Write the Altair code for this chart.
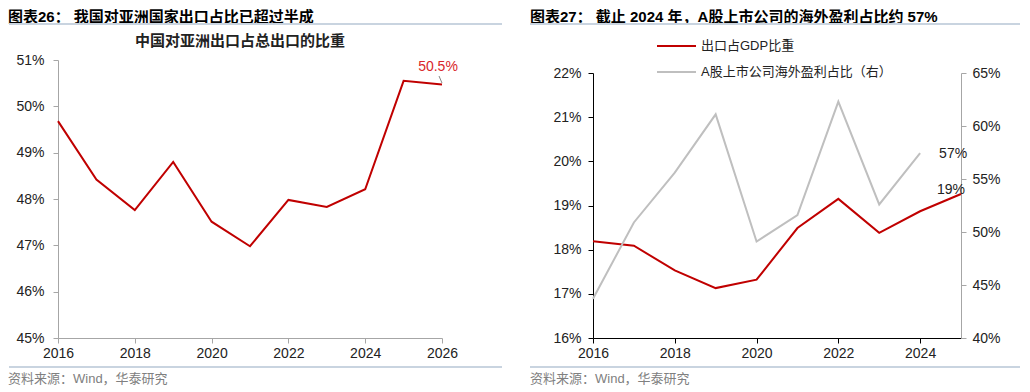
import altair as alt
import pandas as pd

# ---------------- data ----------------
years_asia = [2016, 2017, 2018, 2019, 2020, 2021, 2022, 2023, 2024, 2025, 2026]
asia_share = [49.68, 48.42, 47.76, 48.80, 47.51, 46.98, 47.98, 47.83, 48.21, 50.55, 50.47]

years_gdp = [2016, 2017, 2018, 2019, 2020, 2021, 2022, 2023, 2024, 2025]
export_gdp = [18.19, 18.09, 17.53, 17.13, 17.32, 18.49, 19.15, 18.38, 18.87, 19.26]

years_profit = [2016, 2017, 2018, 2019, 2020, 2021, 2022, 2023, 2024]
overseas_profit = [43.7, 50.9, 55.6, 61.1, 49.1, 51.6, 62.3, 52.6, 57.45]

left_ticks = [45, 46, 47, 48, 49, 50, 51]
left_years = [2016, 2018, 2020, 2022, 2024, 2026]
gdp_ticks = [16, 17, 18, 19, 20, 21, 22]
profit_ticks = [40, 45, 50, 55, 60, 65]
right_years = [2016, 2018, 2020, 2022, 2024]

title1 = "图表26：  我国对亚洲国家出口占比已超过半成"
subtitle1 = "中国对亚洲出口占总出口的比重"
title2 = "图表27：  截止 2024 年，A股上市公司的海外盈利占比约 57%"
legend_red = "出口占GDP比重"
legend_grey = "A股上市公司海外盈利占比（右）"
source = "资料来源：Wind，华泰研究"

# ---------------- style ----------------
FONT = "Liberation Sans, Noto Sans CJK SC"
RED = "#C00000"
LABEL_RED = "#D9262B"
GREY = "#BFBFBF"
SEP = "#C9D4E0"
W1, W2, H = 384, 368, 278

df1 = pd.DataFrame({"year": years_asia, "share": asia_share})
df2 = pd.DataFrame({"year": years_gdp, "v": export_gdp})
df3 = pd.DataFrame({"year": years_profit, "p": overseas_profit})


def txt(s, x, y, size, color="#000", weight="normal", align="left"):
    return alt.Chart(pd.DataFrame({"t": [s]})).mark_text(
        font=FONT, fontSize=size, color=color, fontWeight=weight,
        align=align, baseline="middle"
    ).encode(x=alt.value(x), y=alt.value(y), text="t:N")


def seg(x1, x2, y1, y2, color, width, opacity=1):
    return alt.Chart(pd.DataFrame({"a": [0]})).mark_rule(
        color=color, strokeWidth=width, strokeOpacity=opacity
    ).encode(x=alt.value(x1), x2=alt.value(x2), y=alt.value(y1), y2=alt.value(y2))


def axis_common(**kw):
    base = dict(title=None, grid=False, labelFont="Liberation Sans",
                labelFontSize=14, labelColor="#222", tickSize=5)
    base.update(kw)
    return alt.Axis(**base)


# ---------------- panel 1 ----------------
x1 = alt.X("year:Q", scale=alt.Scale(domain=[2016, 2026], nice=False, zero=False),
           axis=axis_common(values=left_years, format="d", labelFlush=False,
                            domainColor="#A6A6A6", tickColor="#A6A6A6", labelPadding=3))
y1 = alt.Y("share:Q", scale=alt.Scale(domain=[45, 51], nice=False, zero=False),
           axis=axis_common(values=left_ticks, labelExpr="datum.value + '%'",
                            domainColor="#A6A6A6", tickColor="#A6A6A6", labelPadding=9))

line1 = alt.Chart(df1).mark_line(color=RED, strokeWidth=2).encode(x=x1, y=y1)
lab1 = alt.Chart(df1).transform_filter("datum.year == 2026").transform_calculate(
    lab="format(datum.share, '.1f') + '%'"
).mark_text(font=FONT, fontSize=14, color=LABEL_RED, dx=-4, dy=-18).encode(
    x=x1, y=y1, text="lab:N")

p1 = alt.layer(
    line1, lab1,
    seg(381, 384, 16, 23, "#888", 1),
    seg(-49, 40, -51.5, -51.5, "#fff", 1, 0),
    txt(subtitle1, 182, -19, 15, "#222", "bold", "center"),
    txt(title1, -50, -43, 15, "#000", "bold"),
    seg(-49, 444, -36, -36, SEP, 2),
    seg(-49, 444, 307, 307, SEP, 2),
    txt(source, -50, 319, 13, "#808080"),
).properties(width=W1, height=H)

# ---------------- panel 2 ----------------
x2 = alt.X("year:Q", scale=alt.Scale(domain=[2016, 2025], nice=False, zero=False),
           axis=axis_common(values=right_years, format="d", labelFlush=False,
                            domainColor="#000", tickColor="#000", labelPadding=3))
y2 = alt.Y("v:Q", scale=alt.Scale(domain=[16, 22], range=[H, 13], nice=False, zero=False),
           axis=axis_common(values=gdp_ticks, labelExpr="datum.value + '%'", orient="left",
                            domainColor="#000", tickColor="#000", labelPadding=7))
y3 = alt.Y("p:Q", scale=alt.Scale(domain=[40, 65], range=[H, 13], nice=False, zero=False),
           axis=axis_common(values=profit_ticks, labelExpr="datum.value + '%'", orient="right",
                            domainColor="#A6A6A6", tickColor="#A6A6A6", labelPadding=6))

red_group = alt.layer(
    alt.Chart(df2).mark_line(color=RED, strokeWidth=2).encode(x=x2, y=y2),
    alt.Chart(df2).transform_filter("datum.year == 2025").transform_calculate(
        lab="format(datum.v, '.0f') + '%'"
    ).mark_text(font=FONT, fontSize=14, color="#222", align="right", dx=4, dy=-4).encode(
        x=x2, y=y2, text="lab:N"),
)
grey_group = alt.layer(
    alt.Chart(df3).mark_line(color=GREY, strokeWidth=2).encode(x=x2, y=y3),
    alt.Chart(df3).transform_filter("datum.year == 2024").transform_calculate(
        lab="format(datum.p, '.0f') + '%'"
    ).mark_text(font=FONT, fontSize=14, color="#222", align="left", dx=19, dy=1).encode(
        x=x2, y=y3, text="lab:N"),
)

p2 = alt.layer(
    red_group, grey_group,
    seg(64, 103, -14, -14, RED, 2),
    txt(legend_red, 108, -14, 13, "#222"),
    seg(64, 103, 12, 12, GREY, 2),
    txt(legend_grey, 108, 12, 13, "#222"),
    txt(title2, -63, -43, 15, "#000", "bold"),
    seg(-63, 427, -36, -36, SEP, 2),
    seg(-63, 427, 307, 307, SEP, 2),
    txt(source, -63, 319, 13, "#808080"),
).resolve_scale(y="independent").properties(width=W2, height=H)

chart = alt.hconcat(p1, p2, spacing=151).properties(
    bounds="flush", padding=0
).configure_view(stroke=None)

chart.save("out.html", embed_options={"renderer": "svg", "actions": False})
